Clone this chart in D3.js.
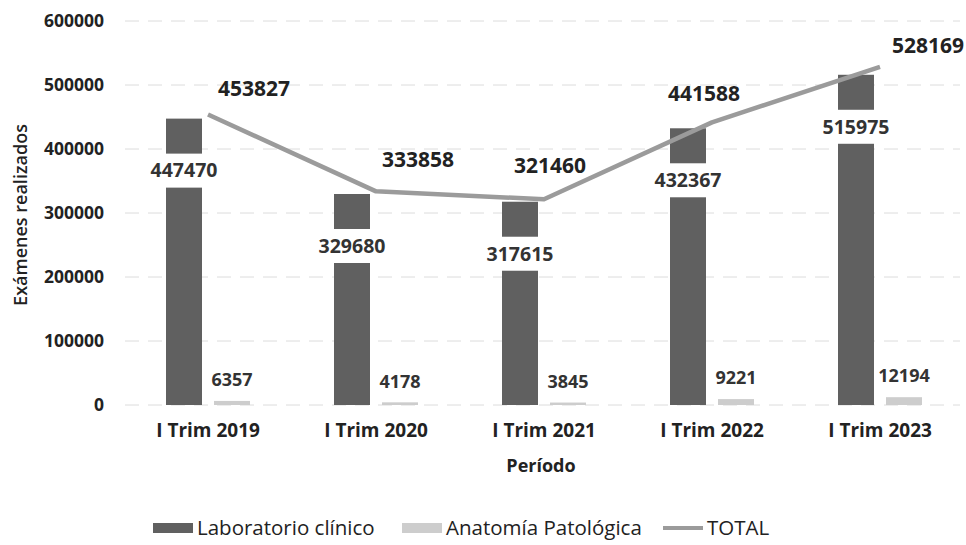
<!DOCTYPE html>
<html>
<head>
<meta charset="utf-8">
<script src="https://cdn.jsdelivr.net/npm/d3@7"></script>
<style>
  body { margin: 0; background: #fff; }
  text { font-family: "Open Sans", "Noto Sans", sans-serif; }
</style>
</head>
<body>
<svg id="chart" width="966" height="545"></svg>
<script>
// Data
var periods = ["I Trim 2019", "I Trim 2020", "I Trim 2021", "I Trim 2022", "I Trim 2023"];
var laboratorio = [447470, 329680, 317615, 432367, 515975];
var anatomia = [6357, 4178, 3845, 9221, 12194];
var total = [453827, 333858, 321460, 441588, 528169];
var yTicks = [0, 100000, 200000, 300000, 400000, 500000, 600000];
var seriesNames = ["Laboratorio clínico", "Anatomía Patológica", "TOTAL"];

// label nudges for the TOTAL labels (placed by hand in the original)
var totalLabelDx = [46, 42, 6, -8, 48];
var totalLabelDy = [-26, -32, -34, -29, -21];

var svg = d3.select("#chart");

var x0 = d3.scaleBand().domain(periods).range([124, 964]).paddingInner(0.5).paddingOuter(0.25);
var x1 = d3.scaleBand().domain(["lab", "anat"]).range([0, x0.bandwidth()]).paddingInner(0.25);
var y = d3.scaleLinear().domain([0, 600000]).range([405, 21]);

var colLab = "#606060", colAnat = "#cdcdcd", colTot = "#9b9b9b";

// gridlines
svg.append("g").selectAll("line")
  .data(yTicks)
  .enter().append("line")
  .attr("x1", 125).attr("x2", 960)
  .attr("y1", function(d){ return y(d); })
  .attr("y2", function(d){ return y(d); })
  .attr("stroke", "#dcdcdc")
  .attr("stroke-width", 1)
  .attr("stroke-dasharray", "14,9");

// y axis (labels only)
var yAxis = svg.append("g")
  .attr("transform", "translate(112,0)")
  .call(d3.axisLeft(y).tickValues(yTicks).tickSize(0).tickPadding(8).tickFormat(d3.format("d")));
yAxis.select(".domain").remove();
yAxis.selectAll("text")
  .attr("font-size", "17.5px").attr("font-weight", "bold").attr("fill", "#222")
  .style("font-family", "'Open Sans', sans-serif");

// x axis (labels only)
var xAxis = svg.append("g")
  .attr("transform", "translate(0,405)")
  .call(d3.axisBottom(x0).tickSize(0).tickPadding(19));
xAxis.select(".domain").remove();
xAxis.selectAll("text")
  .attr("font-size", "19px").attr("font-weight", "bold").attr("fill", "#222")
  .style("font-family", "'Open Sans', sans-serif");

// axis titles
svg.append("text")
  .attr("transform", "translate(21,215) rotate(-90)")
  .attr("text-anchor", "middle")
  .attr("dy", "0.35em")
  .attr("font-size", "18px").attr("font-weight", "600").attr("fill", "#222")
  .text("Exámenes realizados");
svg.append("text")
  .attr("x", 541).attr("y", 466)
  .attr("dy", "0.35em")
  .attr("text-anchor", "middle")
  .attr("font-size", "18px").attr("font-weight", "bold").attr("fill", "#222")
  .text("Período");

// bars
var groups = svg.append("g").selectAll("g")
  .data(periods)
  .enter().append("g")
  .attr("transform", function(d){ return "translate(" + x0(d) + ",0)"; });

groups.append("rect")
  .attr("x", x1("lab"))
  .attr("width", x1.bandwidth())
  .attr("y", function(d, i){ return y(laboratorio[i]); })
  .attr("height", function(d, i){ return y(0) - y(laboratorio[i]); })
  .attr("fill", colLab);

groups.append("rect")
  .attr("x", x1("anat"))
  .attr("width", x1.bandwidth())
  .attr("y", function(d, i){ return y(anatomia[i]); })
  .attr("height", function(d, i){ return y(0) - y(anatomia[i]); })
  .attr("fill", colAnat);

// lab labels with white box, inside the bar
groups.append("rect")
  .attr("x", x1("lab") - 18)
  .attr("width", x1.bandwidth() + 36)
  .attr("y", function(d, i){ return y(laboratorio[i]) + 35; })
  .attr("height", 34)
  .attr("fill", "#fff");
groups.append("text")
  .attr("x", x1("lab") + x1.bandwidth() / 2)
  .attr("y", function(d, i){ return y(laboratorio[i]) + 52; })
  .attr("dy", "0.35em")
  .attr("text-anchor", "middle")
  .attr("font-size", "19.5px").attr("font-weight", "bold").attr("fill", "#333")
  .text(function(d, i){ return laboratorio[i]; });

// anatomia labels
groups.append("text")
  .attr("x", x1("anat") + x1.bandwidth() / 2)
  .attr("y", function(d, i){ return y(anatomia[i]) - 21; })
  .attr("dy", "0.35em")
  .attr("text-anchor", "middle")
  .attr("font-size", "18px").attr("font-weight", "bold").attr("fill", "#333")
  .text(function(d, i){ return anatomia[i]; });

// total line
var cx = function(d){ return x0(d) + x0.bandwidth() / 2; };
var line = d3.line()
  .x(function(d, i){ return cx(periods[i]); })
  .y(function(d){ return y(d); });
svg.append("path")
  .datum(total)
  .attr("d", line)
  .attr("fill", "none")
  .attr("stroke", colTot)
  .attr("stroke-width", 4.5)
  .attr("stroke-linejoin", "round");

svg.append("g").selectAll("text")
  .data(total)
  .enter().append("text")
  .attr("x", function(d, i){ return cx(periods[i]) + totalLabelDx[i]; })
  .attr("y", function(d, i){ return y(d) + totalLabelDy[i]; })
  .attr("dy", "0.35em")
  .attr("text-anchor", "middle")
  .attr("font-size", "21px").attr("font-weight", "bold").attr("fill", "#222")
  .text(function(d){ return d; });

// legend
var legendItems = [
  {name: seriesNames[0], type: "rect", color: colLab, x: 153},
  {name: seriesNames[1], type: "rect", color: colAnat, x: 402},
  {name: seriesNames[2], type: "line", color: colTot, x: 663}
];
var legend = svg.append("g").attr("transform", "translate(0,528)");
legendItems.forEach(function(it){
  if (it.type === "rect") {
    legend.append("rect").attr("x", it.x).attr("y", -5).attr("width", 40).attr("height", 10).attr("fill", it.color);
  } else {
    legend.append("line").attr("x1", it.x).attr("x2", it.x + 40).attr("y1", 0).attr("y2", 0)
      .attr("stroke", it.color).attr("stroke-width", 4);
  }
  legend.append("text")
    .attr("x", it.x + 44).attr("y", 0).attr("dy", "0.35em")
    .attr("font-size", "20.5px").attr("fill", "#222")
    .text(it.name);
});
</script>
</body>
</html>
